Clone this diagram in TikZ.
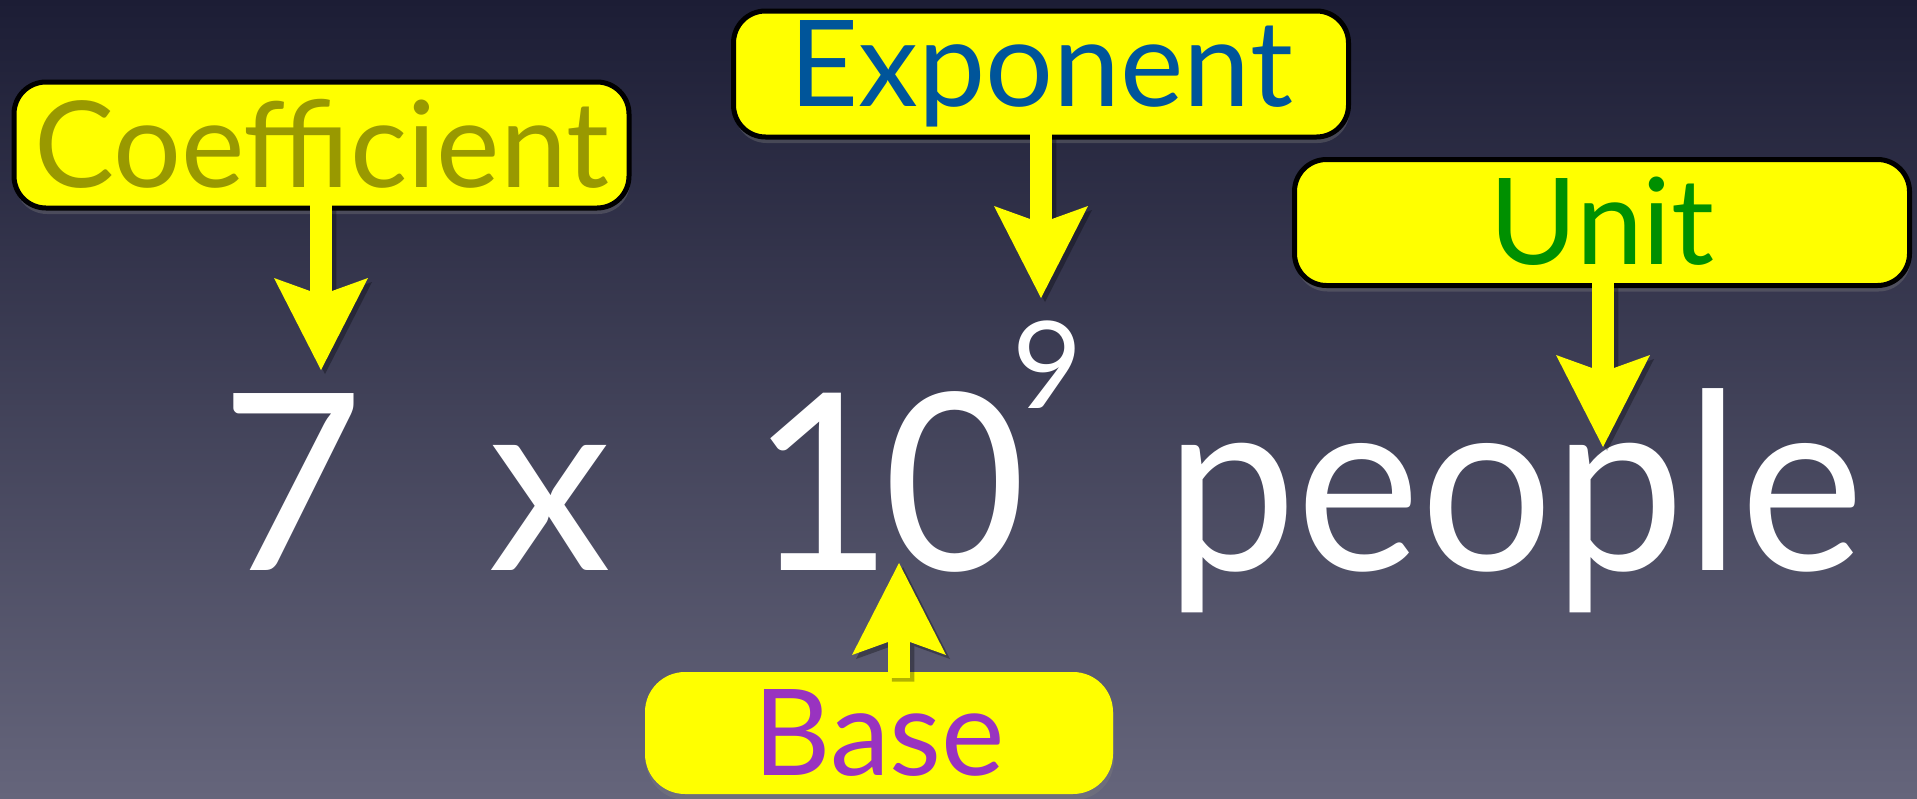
\documentclass[tikz,border=0pt]{standalone}
\usepackage{fontspec}
\setmainfont{Lato}
\usetikzlibrary{arrows.meta,shadows}
\definecolor{bgtop}{HTML}{1C1D35}
\definecolor{bgbot}{HTML}{65657B}
\definecolor{tagfill}{HTML}{FFFF00}
\definecolor{coefcol}{HTML}{999900}
\definecolor{expcol}{HTML}{00559A}
\definecolor{unitcol}{HTML}{009000}
\definecolor{basecol}{HTML}{9933C0}
\tikzset{
  tag/.style={fill=tagfill, draw=black, line width=5pt, rounded corners=32pt,
    minimum width=615pt, minimum height=126pt, inner sep=0pt, text height=86pt,
    font=\fontsize{120pt}{130pt}\selectfont,
    drop shadow={opacity=0.35, shadow xshift=1pt, shadow yshift=-6pt}},
  pointer/.style={draw=tagfill, line width=22.5pt, shorten <=-8pt,
    -{Stealth[length=92pt,width=94pt,inset=17pt,line width=0pt]}},
  pointershade/.style={draw=black, line width=22.5pt, shorten <=-8pt,
    -{Stealth[length=92pt,width=94pt,inset=17pt,line width=0pt]}},
  big/.style={text=white, inner sep=0pt, anchor=base west,
    font=\fontsize{247pt}{250pt}\selectfont},
}
% small raised exponent
\newcommand{\powerof}[1]{\kern-14pt\raisebox{162pt}{\fontsize{121pt}{125pt}\selectfont #1}}
\begin{document}
\begin{tikzpicture}[x=1pt,y=-1pt]
  % backdrop
  \shade[top color=bgtop, bottom color=bgbot] (0,0) rectangle (1917,798);
  \useasboundingbox (0,0) rectangle (1917,798);

  % the expression
  \node[big] (seven) at (220,570) {7};
  \node[big] (times) at (488,570) {x};
  \node[big] (power) at (750,570) {1\kern-10pt0\powerof{9}};
  \node[big] (people) at (1165,570) {\scalebox{0.95}[1]{people}};

  % labels
  \node[tag, text=coefcol] (coef) at (321.5,145) {Coefficient};
  \node[tag, text=expcol] (expo) at (1041,74) {Exponent};
  \node[tag, text=unitcol] (unit) at (1602,222.5) {Unit\hspace{66pt}};
  \node[tag, draw=none, text=basecol, minimum width=468pt, minimum height=122pt,
    rounded corners=40pt] (base) at (879,733) {Base};

  % arrow tips
  \coordinate (coef-tip) at (321,370);
  \coordinate (expo-tip) at (1041,298);
  \coordinate (unit-tip) at (1603,447);
  \coordinate (base-tip) at (899,563);

  % soft shadows under the arrows
  \begin{scope}[transparency group, opacity=0.3, transform canvas={xshift=4pt,yshift=-4pt}]
    \draw[pointershade] (coef.south -| coef-tip) -- (coef-tip);
    \draw[pointershade] (expo.south -| expo-tip) -- (expo-tip);
    \draw[pointershade] (unit.south -| unit-tip) -- (unit-tip);
    \draw[pointershade] (base.north -| base-tip) -- (base-tip);
  \end{scope}

  % arrows
  \draw[pointer] (coef.south -| coef-tip) -- (coef-tip);
  \draw[pointer] (expo.south -| expo-tip) -- (expo-tip);
  \draw[pointer] (unit.south -| unit-tip) -- (unit-tip);
  \draw[pointer] (base.north -| base-tip) -- (base-tip);
\end{tikzpicture}
\end{document}
